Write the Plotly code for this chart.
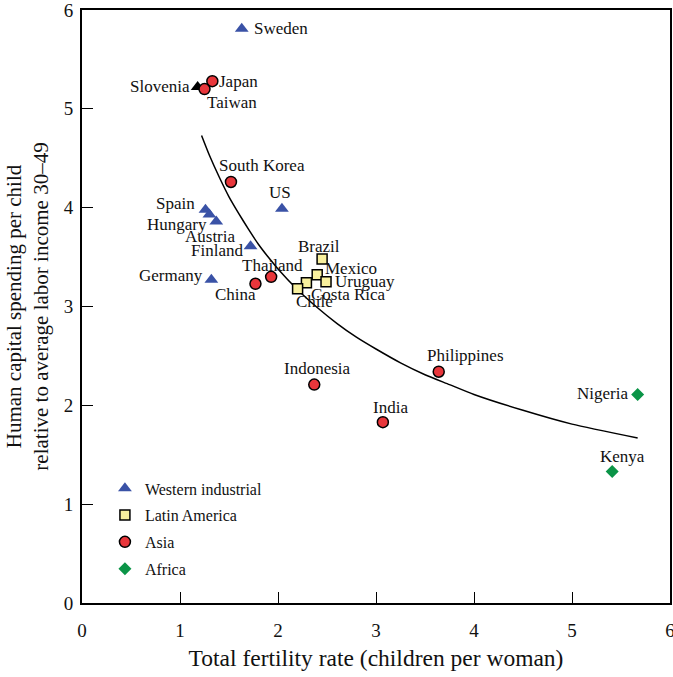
import plotly.graph_objects as go

# ---------------- data ----------------
west_names = ["Sweden", "US", "Spain", "Austria", "Hungary", "Finland", "Germany"]
west_x = [1.63, 2.04, 1.26, 1.30, 1.37, 1.72, 1.32]
west_y = [5.81, 3.99, 3.98, 3.93, 3.86, 3.61, 3.27]

other_names = ["Slovenia"]
other_x = [1.18]
other_y = [5.22]

latam_names = ["Brazil", "Mexico", "Uruguay", "Costa Rica", "Chile"]
latam_x = [2.45, 2.40, 2.49, 2.29, 2.20]
latam_y = [3.48, 3.32, 3.25, 3.24, 3.18]

asia_names = ["Japan", "Taiwan", "South Korea", "Thailand", "China",
              "Philippines", "Indonesia", "India"]
asia_x = [1.33, 1.25, 1.52, 1.93, 1.77, 3.64, 2.37, 3.07]
asia_y = [5.28, 5.20, 4.26, 3.30, 3.23, 2.34, 2.21, 1.83]

africa_names = ["Nigeria", "Kenya"]
africa_x = [5.67, 5.41]
africa_y = [2.11, 1.33]

# fitted curve
curve_x = [1.22, 1.3, 1.4, 1.5, 1.6, 1.7, 1.8, 1.9, 2.0, 2.2, 2.4, 2.6, 2.8,
           3.0, 3.25, 3.5, 3.75, 4.0, 4.5, 5.0, 5.67]
curve_y = [4.73, 4.53, 4.31, 4.11, 3.94, 3.78, 3.63, 3.50, 3.38, 3.17, 2.99, 2.83, 2.69,
           2.57, 2.43, 2.31, 2.21, 2.11, 1.95, 1.81, 1.67]

x_ticks = [0, 1, 2, 3, 4, 5, 6]
y_ticks = [0, 1, 2, 3, 4, 5, 6]

# ---------------- label placement (styling) ----------------
# name: (xanchor, xshift px, yshift px)
label_pos = {
    "Sweden": ("left", 10, 0),
    "Slovenia": ("right", -6, 1),
    "Japan": ("left", 5, 0),
    "Taiwan": ("center", 27, -13),
    "South Korea": ("center", 31, 16),
    "US": ("center", -2, 16),
    "Spain": ("right", -8, 6),
    "Hungary": ("right", -7, -3),
    "Austria": ("center", 1, -22),
    "Finland": ("right", -6, -4),
    "Germany": ("right", -6, 4),
    "Thailand": ("center", 1, 11),
    "China": ("center", -20, -11),
    "Brazil": ("center", -3, 13),
    "Mexico": ("left", 6, 6),
    "Uruguay": ("left", 7, 0),
    "Costa Rica": ("left", 3, -12),
    "Chile": ("center", 17, -13),
    "Philippines": ("center", 27, 16),
    "Nigeria": ("right", -8, 1),
    "Kenya": ("center", 10, 15),
    "Indonesia": ("center", 3, 16),
    "India": ("center", 8, 15),
}

FONT = "Liberation Serif"
BLUE = "#3a52a6"
RED = "#e8363b"
YELLOW = "#f8f09e"
GREEN = "#0b9447"

fig = go.Figure()

fig.add_trace(go.Scatter(x=curve_x, y=curve_y, mode="lines",
                         line=dict(color="black", width=1.5, shape="spline", smoothing=0.6),
                         showlegend=False, hoverinfo="skip"))

fig.add_trace(go.Scatter(x=other_x, y=other_y, mode="markers", showlegend=False,
                         marker=dict(symbol="triangle-up", size=12, color="black",
                                     line=dict(width=0))))
fig.add_trace(go.Scatter(x=west_x, y=west_y, mode="markers", name="Western industrial",
                         legendgroup="a",
                         marker=dict(symbol="triangle-up", size=12, color=BLUE,
                                     line=dict(width=0))))
fig.add_trace(go.Scatter(x=latam_x, y=latam_y, mode="markers", name="Latin America",
                         legendgroup="b",
                         marker=dict(symbol="square", size=10, color=YELLOW,
                                     line=dict(width=1.5, color="black"))))
fig.add_trace(go.Scatter(x=asia_x, y=asia_y, mode="markers", name="Asia",
                         legendgroup="c",
                         marker=dict(symbol="circle", size=11, color=RED,
                                     line=dict(width=1.5, color="black"))))
fig.add_trace(go.Scatter(x=africa_x, y=africa_y, mode="markers", name="Africa",
                         legendgroup="d",
                         marker=dict(symbol="diamond", size=10, color=GREEN,
                                     line=dict(width=0))))

annotations = []
for names, xs, ys in [(west_names, west_x, west_y), (other_names, other_x, other_y),
                      (latam_names, latam_x, latam_y), (asia_names, asia_x, asia_y),
                      (africa_names, africa_x, africa_y)]:
    for n, xv, yv in zip(names, xs, ys):
        anc, dx, dy = label_pos[n]
        annotations.append(dict(x=xv, y=yv, xref="x", yref="y", text=n,
                                showarrow=False, xanchor=anc, yanchor="middle",
                                xshift=dx, yshift=dy,
                                font=dict(family=FONT, size=17, color="#111")))

axis_common = dict(range=[0, 6], showgrid=False, zeroline=False, automargin=False,
                   showline=True, linecolor="black", linewidth=2, mirror=True,
                   ticks="inside", ticklen=11, tickwidth=1.3, tickcolor="black",
                   ticklabeloverflow="allow",
                   tickfont=dict(family=FONT, size=19, color="#111"))

fig.update_layout(
    width=673, height=677,
    margin=dict(l=82, r=3, t=10, b=74),
    plot_bgcolor="white", paper_bgcolor="white",
    font=dict(family=FONT, color="#111"),
    xaxis=dict(**axis_common, tickvals=x_ticks, ticklabelstandoff=9,
               title=dict(text="Total fertility rate (children per woman)",
                          font=dict(family=FONT, size=23.5), standoff=10)),
    yaxis=dict(**axis_common, tickvals=y_ticks, ticklabelstandoff=3,
               title=dict(text="Human capital spending per child<br>relative to average labor income 30–49",
                          font=dict(family=FONT, size=21), standoff=9)),
    legend=dict(x=0.039, y=0.222, xanchor="left", yanchor="top",
                bgcolor="rgba(0,0,0,0)", traceorder="grouped", tracegroupgap=3,
                font=dict(family=FONT, size=16, color="#111"), itemwidth=30),
    annotations=annotations,
)

# remove the page's default body margin so the figure sits at the window's corner
fig.write_html("out.html", config={"displayModeBar": False},
               post_script="document.body.style.margin='0';")
